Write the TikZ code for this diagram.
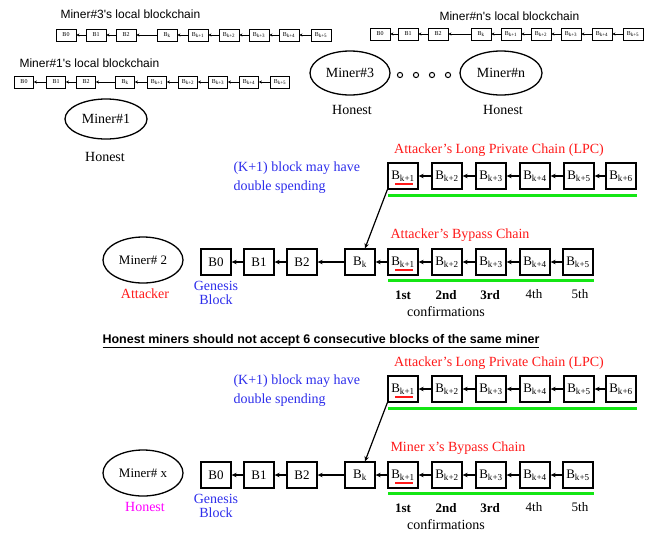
\documentclass[tikz,border=0pt]{standalone}
\usepackage{fontspec}
\setmainfont{Liberation Serif}
\newfontfamily\sansf{Liberation Sans}
\usetikzlibrary{arrows.meta,shapes.geometric}
\definecolor{atkred}{RGB}{255,25,25}
\definecolor{noteblue}{RGB}{45,45,235}
\definecolor{honmag}{RGB}{255,0,255}
\definecolor{okgreen}{RGB}{20,230,20}
\newcommand\Bs[1]{B\textsubscript{#1}}

\begin{document}
\begin{tikzpicture}[x=1pt,y=-1pt,
  tblk/.style={draw,line width=0.8pt,minimum width=20pt,minimum height=12pt,inner sep=0pt,font=\fontsize{6}{6}\selectfont},
  blk/.style={draw,line width=1.3pt,minimum width=30pt,minimum height=26pt,inner sep=0pt,font=\fontsize{13}{13}\selectfont},
  tarr/.style={-{Stealth[length=3pt,width=3pt]},line width=0.6pt},
  barr/.style={-{Stealth[length=5pt,width=4.5pt]},line width=1.2pt},
  miner/.style={draw,ellipse,line width=1.3pt,inner sep=0pt},
  chainlbl/.style={font=\sansf\fontsize{12}{12}\selectfont,anchor=west},
  redlbl/.style={text=atkred,font=\fontsize{14}{14}\selectfont},
  bluelbl/.style={text=noteblue,font=\fontsize{14}{14}\selectfont},
  caption/.style={font=\fontsize{14}{14}\selectfont},
  ordb/.style={font=\bfseries\fontsize{13}{13}\selectfont},
  ordr/.style={font=\fontsize{13}{13}\selectfont},
  greenbar/.style={okgreen,line width=3pt},
  redbar/.style={atkred,line width=2.5pt}
]
\useasboundingbox (0,0) rectangle (655,536);

% ---- local blockchains of the honest miners ----
\node[chainlbl] (t3) at (57,14) {Miner\#3's local blockchain};
\foreach \x/\l [count=\i] in {66/B0,96/B1,126/B2,167/{\Bs{k}},198/{\Bs{k+1}},229/{\Bs{k+2}},259/{\Bs{k+3}},289/{\Bs{k+4}},321/{\Bs{k+5}}}
  \node[tblk] (a\i) at (\x,35) {\l};
\foreach \i in {2,...,9} {\pgfmathtruncatemacro\j{\i-1}\draw[tarr] (a\i.west) -- (a\j.east);}

\node[chainlbl] (tn) at (436,16) {Miner\#n's local blockchain};
\foreach \x/\l [count=\i] in {380/B0,408/B1,438/B2,481/{\Bs{k}},511/{\Bs{k+1}},541/{\Bs{k+2}},571/{\Bs{k+3}},602/{\Bs{k+4}},633/{\Bs{k+5}}}
  \node[tblk] (c\i) at (\x,34) {\l};
\foreach \i in {2,...,9} {\pgfmathtruncatemacro\j{\i-1}\draw[tarr] (c\i.west) -- (c\j.east);}

\node[chainlbl] (t1) at (16,63) {Miner\#1's local blockchain};
\foreach \x/\l [count=\i] in {24/B0,56/B1,86/B2,125/{\Bs{k}},157/{\Bs{k+1}},188/{\Bs{k+2}},218/{\Bs{k+3}},249/{\Bs{k+4}},280/{\Bs{k+5}}}
  \node[tblk,minimum width=19pt] (d\i) at (\x,82) {\l};
\foreach \i in {2,...,9} {\pgfmathtruncatemacro\j{\i-1}\draw[tarr] (d\i.west) -- (d\j.east);}

% ---- honest miners ----
\node[miner,minimum width=82pt,minimum height=40pt,font=\fontsize{14}{14}\selectfont] (m1) at (106,119) {Miner\#1};
\node[caption] (h1) at (105,157) {Honest};
\node[miner,minimum width=80pt,minimum height=44pt,font=\fontsize{14}{14}\selectfont] (m3) at (350,73) {Miner\#3};
\node[caption] (h3) at (352,110) {Honest};
\node[miner,minimum width=82pt,minimum height=44pt,font=\fontsize{14}{14}\selectfont] (mn) at (501,73) {Miner\#n};
\node[caption] (hn) at (503,110) {Honest};
\foreach \x in {400,416,432,448} \draw[line width=1pt] (\x,75) circle (2.6pt);

% ---- heading ----
\node[font=\sansf\bfseries\fontsize{12.5}{12.5}\selectfont] (title) at (321,341)
  {\underline{Honest miners should not accept 6 consecutive blocks of the same miner}};

% ---- the two fork scenarios ----
\foreach \oy/\p/\mn/\mc/\ml/\bl in {0/m/{Miner\# 2}/atkred/Attacker/{Attacker's Bypass Chain},213/n/{Miner\# x}/honmag/Honest/{Miner x's Bypass Chain}}{
\begin{scope}[shift={(0,\oy)}]
  \node[redlbl] (\p lpclbl) at (499,150) {Attacker's Long Private Chain (LPC)};
  \node[bluelbl,anchor=west] (\p note1) at (230,168) {(K+1) block may have};
  \node[bluelbl,anchor=west] (\p note2) at (230,187) {double spending};
  \foreach \x/\s [count=\i] in {403/k+1,447/k+2,491/k+3,535/k+4,579/k+5,621/k+6}
    \node[blk] (\p l\i) at (\x,176) {\Bs{\s}};
  \foreach \i in {2,...,6} {\pgfmathtruncatemacro\j{\i-1}\draw[barr] (\p l\i.west) -- (\p l\j.east);}
  \draw[greenbar] (388,195) -- (637,195);
  \draw[redbar] (395,184) -- (413,184);

  \node[miner,minimum width=80pt,minimum height=46pt,font=\fontsize{13}{13}\selectfont] (\p miner) at (143,260) {\mn};
  \node[caption,text=\mc] (\p role) at (145,294) {\ml};

  \foreach \x/\l [count=\i] in {216/B0,259/B1,302/B2,360/{\Bs{k}}}
    \node[blk] (\p b\i) at (\x,262) {\l};
  \foreach \i in {2,3,4} {\pgfmathtruncatemacro\j{\i-1}\draw[barr] (\p b\i.west) -- (\p b\j.east);}
  \node[bluelbl,align=center] (\p gen) at (216,293) {Genesis\\Block};

  \node[redlbl,anchor=west] (\p bplbl) at (387,235) {\bl};
  \foreach \x/\s [count=\i] in {403/k+1,447/k+2,491/k+3,535/k+4,578/k+5}
    \node[blk] (\p y\i) at (\x,262) {\Bs{\s}};
  \foreach \i in {2,...,5} {\pgfmathtruncatemacro\j{\i-1}\draw[barr] (\p y\i.west) -- (\p y\j.east);}
  \draw[barr] (\p y1.west) -- (\p b4.east);
  \draw[barr] (\p l1.south west) -- (\p b4.70);
  \draw[greenbar] (388,280) -- (594,280);
  \draw[redbar] (395,270) -- (413,270);

  \node[ordb] (\p o1) at (403,295) {1st};
  \node[ordb] (\p o2) at (446,295) {2nd};
  \node[ordb] (\p o3) at (490,295) {3rd};
  \node[ordr] (\p o4) at (534,294) {4th};
  \node[ordr] (\p o5) at (580,294) {5th};
  \node[caption] (\p conf) at (446,312) {confirmations};
\end{scope}
}
\end{tikzpicture}
\end{document}
